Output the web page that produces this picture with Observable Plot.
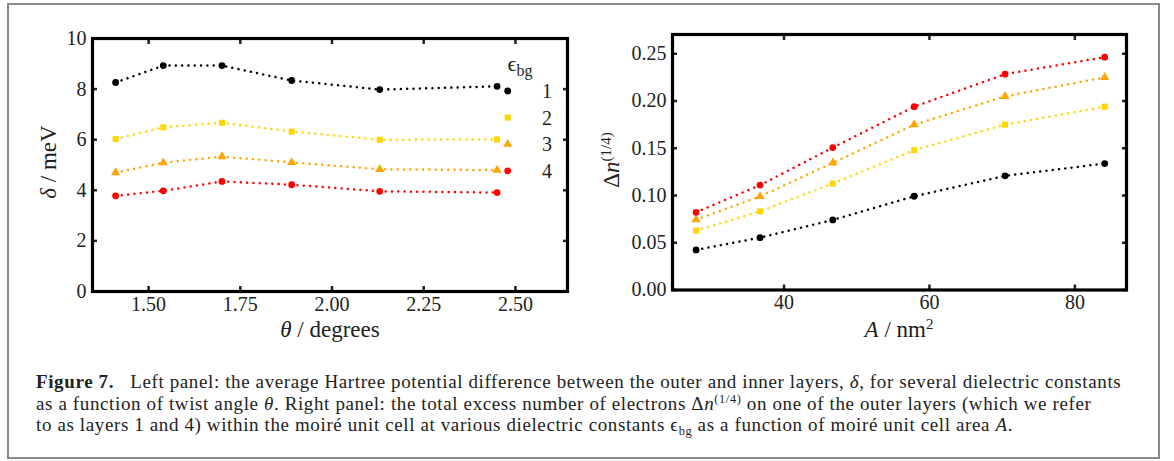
<!DOCTYPE html>
<html>
<head>
<meta charset="utf-8">
<script src="https://cdn.jsdelivr.net/npm/d3@7"></script>
<script src="https://cdn.jsdelivr.net/npm/@observablehq/plot@0.6"></script>
<style>
  html, body { margin: 0; padding: 0; background: #fff; }
  #root { position: relative; width: 1174px; height: 461px; overflow: hidden; background: #fff; font-family: 'Liberation Serif', serif; }
  .abs { position: absolute; }
  #border { left: 7px; top: 3px; width: 1153px; height: 456px; border: 2px solid #8a8a8a; box-sizing: border-box; }
  .axlab { position: absolute; font-family: 'Liberation Serif', serif; font-size: 23px; color: #222; white-space: nowrap; transform: translate(-50%, -50%); }
  .axlab.rot { transform: translate(-50%, -50%) rotate(-90deg); }
  #caption { left: 36px; top: 371px; font-family: 'Liberation Serif', serif; font-size: 19px; line-height: 21.5px; color: #222; letter-spacing: 0.62px; white-space: nowrap; }
  sup { font-size: 0.65em; vertical-align: 0.55em; line-height: 0; }
  sub { font-size: 0.65em; vertical-align: -0.3em; line-height: 0; }
  svg text { font-family: 'Liberation Serif', serif; }
</style>
</head>
<body>
<div id="root">
  <div id="border" class="abs"></div>
</div>
<script>
// ---- data ----
const series = ["1", "2", "3", "4"];
const seriesColors = ["#000000", "#FFD700", "#FFA500", "#FF0000"];
const seriesSymbols = ["circle", "square", "triangle", "circle"];

// left panel: twist angle (degrees) vs delta (meV)
const theta = [1.41, 1.54, 1.70, 1.89, 2.13, 2.45];
const delta1 = [8.26, 8.93, 8.93, 8.34, 7.98, 8.11];
const delta2 = [6.03, 6.49, 6.67, 6.32, 6.00, 6.01];
const delta3 = [4.70, 5.09, 5.33, 5.10, 4.83, 4.80];
const delta4 = [3.78, 3.98, 4.35, 4.22, 3.96, 3.91];

// right panel: moire cell area (nm^2) vs excess electrons
const area = [27.9, 36.7, 46.7, 57.9, 70.4, 84.1];
const dn1 = [0.0424, 0.0554, 0.0742, 0.0992, 0.1208, 0.1338];
const dn2 = [0.0628, 0.0833, 0.1126, 0.1480, 0.1750, 0.1940];
const dn3 = [0.0745, 0.0990, 0.1345, 0.1750, 0.2050, 0.2250];
const dn4 = [0.0822, 0.1110, 0.1507, 0.1940, 0.2284, 0.2464];

const thetaTicks = [1.50, 1.75, 2.00, 2.25, 2.50];
const deltaTicks = [0, 2, 4, 6, 8, 10];
const areaTicks = [40, 60, 80];
const dnTicks = [0, 0.05, 0.10, 0.15, 0.20, 0.25];

// ---- build tables ----
function table(xs, ys) {
  const rows = [];
  ys.forEach((vals, i) => xs.forEach((x, j) => rows.push({x, y: vals[j], s: series[i]})));
  return rows;
}
const leftData = table(theta, [delta1, delta2, delta3, delta4]);
const rightData = table(area, [dn1, dn2, dn3, dn4]);

const style = {fontFamily: "'Liberation Serif', serif", fontSize: "20px", color: "#222", background: "transparent", overflow: "visible"};
const colorScale = {domain: series, range: seriesColors};
const symbolScale = {domain: series, range: seriesSymbols};

function panel(data, opts) {
  return Plot.plot({
    width: opts.width, height: 355,
    marginLeft: opts.ml, marginRight: opts.mr, marginTop: opts.mt, marginBottom: opts.mb,
    style,
    x: {domain: opts.xd, label: null},
    y: {domain: opts.yd, label: null},
    color: colorScale,
    symbol: symbolScale,
    marks: [
      Plot.line(data, {x: "x", y: "y", z: "s", stroke: "s", strokeWidth: 2.5, strokeLinecap: "round", strokeDasharray: "0.01,6.3"}),
      Plot.dot(data, {x: "x", y: "y", fill: "s", symbol: "s", r: 3.4, stroke: "none"}),
      Plot.axisX(opts.xt, {anchor: "bottom", tickSize: -5, tickPadding: 10, strokeWidth: 2.5, tickFormat: opts.xf, fill: "#222"}),
      Plot.axisX(opts.xt, {anchor: "top", tickSize: -5, strokeWidth: 2.5, tickFormat: () => ""}),
      Plot.axisY(opts.yt, {anchor: "left", tickSize: -5, tickPadding: 11, strokeWidth: 2.5, tickFormat: opts.yf, fill: "#222"}),
      Plot.axisY(opts.yt, {anchor: "right", tickSize: -5, strokeWidth: 2.5, tickFormat: () => ""}),
      Plot.frame({stroke: "#000", strokeWidth: 3.2})
    ]
  });
}

const root = document.getElementById("root");

const left = panel(leftData, {
  width: 590, ml: 92, mr: 23, mt: 38, mb: 64,
  xd: [1.347, 2.642], yd: [0, 10],
  xt: thetaTicks, yt: deltaTicks,
  xf: d3.format(".2f"), yf: d3.format("d")
});
left.style.position = "absolute"; left.style.left = "0px"; left.style.top = "0px";
root.appendChild(left);

const right = panel(rightData, {
  width: 584, ml: 82, mr: 48, mt: 34, mb: 65.5,
  xd: [24.66, 87.1], yd: [0, 0.2704],
  xt: areaTicks, yt: dnTicks,
  xf: d3.format("d"), yf: d3.format(".2f")
});
right.style.position = "absolute"; right.style.left = "590px"; right.style.top = "0px";
root.appendChild(right);

// ---- axis labels (HTML, for italics / superscripts) ----
function addLabel(html, x, y, rot) {
  const d = document.createElement("div");
  d.className = "axlab" + (rot ? " rot" : "");
  d.style.left = x + "px"; d.style.top = y + "px";
  d.innerHTML = html;
  root.appendChild(d);
}
addLabel("<i>δ</i> / meV", 49, 162, true);
addLabel("<i>θ</i> / degrees", 330, 330, false);
addLabel("Δ<i>n</i><sup>(1/4)</sup>", 612, 160, true);
addLabel("<i>A</i> / nm<sup>2</sup>", 899, 330, false);

// ---- legend (left panel) ----
const leg = d3.select(root).append("svg")
  .attr("class", "abs").attr("width", 80).attr("height", 140)
  .style("left", "495px").style("top", "45px").style("overflow", "visible");
leg.append("text").attr("x", 25).attr("y", 26).attr("text-anchor", "middle")
  .style("font-family", "'Liberation Serif', serif").attr("font-size", 22).attr("fill", "#222")
  .html('ϵ<tspan font-size="16" dy="5">bg</tspan>');
const symMap = {circle: d3.symbolCircle, square: d3.symbolSquare, triangle: d3.symbolTriangle};
series.forEach((s, i) => {
  const cy = 46 + i * 26.6;
  leg.append("path")
    .attr("transform", `translate(12.7,${cy})`)
    .attr("d", d3.symbol(symMap[seriesSymbols[i]], Math.PI * 3.4 * 3.4)())
    .attr("fill", seriesColors[i]);
  leg.append("text").attr("x", 52).attr("y", cy).attr("dy", "0.35em").attr("text-anchor", "middle")
    .style("font-family", "'Liberation Serif', serif").attr("font-size", 20).attr("fill", "#222")
    .text(s);
});

// ---- caption ----
const cap = document.createElement("div");
cap.id = "caption"; cap.className = "abs";
cap.innerHTML =
  '<div><b>Figure 7.</b>&nbsp;&nbsp; Left panel: the average Hartree potential difference between the outer and inner layers, <i>δ</i>, for several dielectric constants</div>' +
  '<div>as a function of twist angle <i>θ</i>. Right panel: the total excess number of electrons Δ<i>n</i><sup>(1/4)</sup> on one of the outer layers (which we refer</div>' +
  '<div>to as layers 1 and 4) within the moiré unit cell at various dielectric constants ϵ<sub>bg</sub> as a function of moiré unit cell area <i>A</i>.</div>';
root.appendChild(cap);
</script>
</body>
</html>
